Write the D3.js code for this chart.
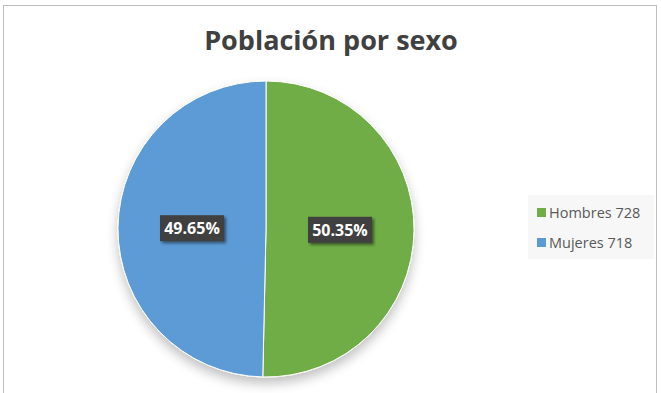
<!DOCTYPE html>
<html>
<head>
<meta charset="utf-8">
<title>Población por sexo</title>
<style>
  body { margin: 0; background: #fff; }
  svg { display: block; font-family: "Open Sans", "Noto Sans", sans-serif; }
</style>
</head>
<body>
<svg></svg>
<script src="https://d3js.org/d3.v7.min.js"></script>
<script>
// data
let categories = ["Hombres", "Mujeres"];
let counts = [728, 718];
let colors = ["#70ad47", "#5b9bd5"];

let width = 661, height = 393;
let svg = d3.select("svg").attr("width", width).attr("height", height);

let defs = svg.append("defs");
let shadow = defs.append("filter").attr("id", "pieShadow")
    .attr("x", "-30%").attr("y", "-30%").attr("width", "160%").attr("height", "160%");
shadow.append("feGaussianBlur").attr("in", "SourceAlpha").attr("stdDeviation", 6);
shadow.append("feOffset").attr("dx", 0).attr("dy", 6).attr("result", "blur");
shadow.append("feComponentTransfer").append("feFuncA").attr("type", "linear").attr("slope", 0.25);
let m = shadow.append("feMerge");
m.append("feMergeNode");
m.append("feMergeNode").attr("in", "SourceGraphic");

let lblShadow = defs.append("filter").attr("id", "lblShadow")
    .attr("x", "-20%").attr("y", "-30%").attr("width", "150%").attr("height", "180%");
lblShadow.append("feGaussianBlur").attr("in", "SourceAlpha").attr("stdDeviation", 1.5);
lblShadow.append("feOffset").attr("dx", 2).attr("dy", 2);
lblShadow.append("feComponentTransfer").append("feFuncA").attr("type", "linear").attr("slope", 0.5);
let m2 = lblShadow.append("feMerge");
m2.append("feMergeNode");
m2.append("feMergeNode").attr("in", "SourceGraphic");

// chart border
svg.append("rect")
    .attr("x", 3.5).attr("y", 5.5)
    .attr("width", 653).attr("height", 400)
    .attr("fill", "#fff").attr("stroke", "#bfbfbf");

// title
svg.append("text")
    .attr("x", 331).attr("y", 50)
    .attr("text-anchor", "middle")
    .attr("font-size", 27).attr("font-weight", "bold")
    .attr("fill", "#404040")
    .text("Población por sexo");

let total = d3.sum(counts);
let data = categories.map((c, i) => ({ name: c, value: counts[i], color: colors[i] }));

let pie = d3.pie().value(d => d.value).sort(null);
let radius = 148;
let arc = d3.arc().innerRadius(0).outerRadius(radius);

let g = svg.append("g").attr("transform", "translate(266,229)");
g.append("g").attr("filter", "url(#pieShadow)")
    .selectAll("path")
    .data(pie(data))
    .enter()
    .append("path")
    .attr("d", arc)
    .attr("fill", d => d.data.color)
    .attr("stroke", "#fff")
    .attr("stroke-width", 1);

// labels
let labelArc = d3.arc().innerRadius(radius * 0.5).outerRadius(radius * 0.5);
let labels = g.selectAll(".lbl")
    .data(pie(data))
    .enter()
    .append("g")
    .attr("class", "lbl")
    .attr("transform", d => {
        let c = labelArc.centroid(d);
        return "translate(" + c[0] + "," + c[1] + ")";
    });
labels.append("rect")
    .attr("x", -32).attr("y", -13)
    .attr("width", 64).attr("height", 26)
    .attr("fill", "#404040")
    .attr("filter", "url(#lblShadow)");
labels.append("text")
    .attr("text-anchor", "middle")
    .attr("dy", "0.36em")
    .attr("font-size", 16).attr("font-weight", "bold")
    .attr("fill", "#fff")
    .text(d => (d.data.value / total * 100).toFixed(2) + "%");

// legend
let legend = svg.append("g").attr("transform", "translate(528,195)");
legend.append("rect")
    .attr("width", 126).attr("height", 64)
    .attr("fill", "#f7f7f7");
let items = legend.selectAll(".item")
    .data(data)
    .enter()
    .append("g")
    .attr("class", "item")
    .attr("transform", (d, i) => "translate(9," + (18 + i * 30) + ")");
items.append("rect")
    .attr("x", 0).attr("y", -5)
    .attr("width", 9).attr("height", 9)
    .attr("fill", d => d.color);
items.append("text")
    .attr("x", 12).attr("dy", "0.35em")
    .attr("font-size", 14.5)
    .attr("fill", "#595959")
    .text(d => d.name + " " + d.value);
</script>
</body>
</html>
